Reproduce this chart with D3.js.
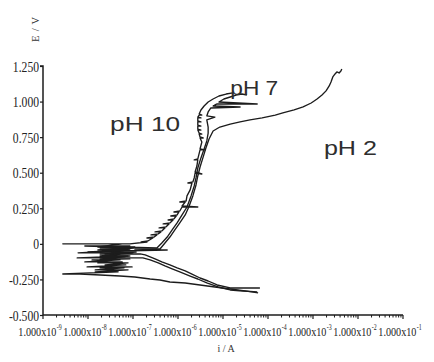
<!DOCTYPE html>
<html>
<head>
<meta charset="utf-8">
<script src="https://cdn.jsdelivr.net/npm/d3@7"></script>
<style>
  html, body { margin: 0; padding: 0; background: #fff; }
  svg { display: block; }
</style>
</head>
<body>
<svg id="chart" width="434" height="362"></svg>
<script>
// Potentiodynamic polarization curves, log10 of current (A) against potential (V)

// pH 2: cathodic branch, noisy region near Ecorr, then anodic branch
const pH2LogI = [-4.22, -4.51, -4.84, -5.18, -5.51, -5.84, -6.18, -6.40, -6.62, -6.96, -7.29, -7.73, -8.18, -8.56,
  -7.33, -7.84, -7.11, -7.84, -7.20, -7.73, -7.02, -8.02, -7.16, -7.62, -7.11, -7.78, -7.24, -8.07, -7.29, -7.91,
  -7.07, -7.73, -7.18, -7.67, -7.11, -7.56, -7.29, -7.73, -7.00, -7.47, -7.33, -6.24, -6.96,
  -6.40, -6.29, -6.18, -6.07, -5.96, -5.84, -5.76, -5.67, -5.60, -5.56, -5.51, -5.44, -5.38, -5.31, -5.22, -5.07, -4.84, -4.62,
  -4.40, -4.13, -3.84, -3.67, -3.42, -3.22, -3.04, -2.91, -2.80, -2.71, -2.64, -2.60, -2.56, -2.51, -2.47, -2.42, -2.38, -2.36];
const pH2E = [-0.345, -0.331, -0.317, -0.303, -0.289, -0.275, -0.268, -0.254, -0.247, -0.233, -0.226, -0.219, -0.212, -0.212,
  -0.197, -0.197, -0.183, -0.183, -0.169, -0.169, -0.162, -0.162, -0.148, -0.148, -0.134, -0.134, -0.127, -0.127, -0.113, -0.113,
  -0.106, -0.106, -0.092, -0.092, -0.085, -0.085, -0.071, -0.071, -0.063, -0.063, -0.050, -0.043, -0.036,
  -0.036, 0.006, 0.048, 0.098, 0.147, 0.203, 0.259, 0.337, 0.414, 0.477, 0.540, 0.611, 0.674, 0.737, 0.793, 0.821, 0.842, 0.857,
  0.871, 0.885, 0.905, 0.920, 0.941, 0.962, 0.990, 1.018, 1.046, 1.075, 1.110, 1.138, 1.173, 1.194, 1.208, 1.201, 1.215, 1.229];

// pH 7
const pH7LogI = [-4.18, -4.51, -4.84, -5.13, -5.33, -5.51, -5.69, -5.84, -6.02, -6.18, -6.36, -6.51, -6.62, -6.73,
  -6.84, -7.62, -6.93, -8.00, -7.07, -7.56, -6.98, -7.73, -7.07, -8.07,
  -6.47, -6.36, -6.24, -6.13, -6.02, -5.91, -5.80, -5.71, -5.64, -5.60, -5.56, -5.49, -5.42, -5.36, -5.33, -5.33, -5.36,
  -5.18, -5.36, -5.33, -5.27, -4.62, -5.22, -5.18, -5.13, -4.24, -5.09, -4.98, -4.84, -4.71, -4.58, -4.47];
const pH7E = [-0.310, -0.310, -0.310, -0.289, -0.261, -0.240, -0.212, -0.190, -0.169, -0.148, -0.127, -0.106, -0.092, -0.078,
  -0.071, -0.071, -0.057, -0.057, -0.043, -0.043, -0.029, -0.029, -0.015, -0.015,
  -0.029, 0.006, 0.048, 0.098, 0.147, 0.203, 0.259, 0.337, 0.407, 0.463, 0.533, 0.604, 0.667, 0.723, 0.779, 0.821, 0.871,
  0.891, 0.899, 0.927, 0.955, 0.962, 0.969, 0.976, 0.983, 0.983, 0.997, 1.018, 1.032, 1.046, 1.053, 1.046];

// pH 10 (anodic branch carries short current excursions)
const pH10LogI = [-4.24, -4.56, -4.84, -5.11, -5.36, -5.56, -5.73, -5.96, -6.13, -6.29, -6.44, -6.62, -6.78,
  -6.89, -8.24, -7.07, -7.73, -7.02, -8.22, -7.11, -7.78, -6.96, -7.78, -7.24, -8.56,
  -7.07, -6.69, -6.82, -6.67, -6.56, -6.69, -6.53, -6.47, -6.60, -6.44, -6.38, -6.51, -6.36, -6.29, -6.42, -6.27,
  -6.20, -6.33, -6.18, -6.11, -6.22, -6.09, -6.04, -6.16, -6.02, -5.98, -6.09, -5.96, -5.91, -5.56, -5.91, -5.84,
  -5.96, -5.82, -5.80, -5.73, -5.69, -5.78, -5.67, -5.64, -5.62, -5.47, -5.62, -5.58, -5.56, -5.64, -5.56, -5.51,
  -5.40, -5.51, -5.47,
  -5.51, -5.44, -5.51, -5.53, -5.47, -5.53, -5.56, -5.49, -5.56, -5.56, -5.49, -5.56, -5.56, -5.49, -5.56, -5.56,
  -5.49, -5.56, -5.53, -5.47, -5.53, -5.49, -5.42, -5.33, -5.22, -5.09, -4.93, -4.78];
const pH10E = [-0.338, -0.331, -0.324, -0.303, -0.275, -0.247, -0.226, -0.197, -0.176, -0.155, -0.134, -0.113, -0.099,
  -0.099, -0.099, -0.085, -0.085, -0.063, -0.063, -0.043, -0.043, -0.022, -0.022, 0.000, 0.000,
  0.000, 0.013, 0.013, 0.020, 0.041, 0.041, 0.048, 0.063, 0.063, 0.070, 0.084, 0.084, 0.091, 0.112, 0.112, 0.119,
  0.140, 0.140, 0.147, 0.168, 0.168, 0.175, 0.196, 0.196, 0.203, 0.224, 0.224, 0.231, 0.259, 0.259, 0.266, 0.294,
  0.294, 0.301, 0.337, 0.379, 0.428, 0.428, 0.435, 0.463, 0.498, 0.491, 0.505, 0.547, 0.590, 0.590, 0.597, 0.660,
  0.660, 0.667, 0.716,
  0.744, 0.744, 0.751, 0.772, 0.772, 0.779, 0.800, 0.800, 0.807, 0.828, 0.828, 0.835, 0.857, 0.857, 0.864, 0.885,
  0.885, 0.891, 0.905, 0.905, 0.913, 0.941, 0.969, 0.997, 1.018, 1.039, 1.053, 1.061];

// Axis ticks and labels
const yTickValues = [-0.5, -0.25, 0, 0.25, 0.5, 0.75, 1.0, 1.25];
const yTickLabels = ["-0.500", "-0.250", "0", "0.250", "0.500", "0.750", "1.000", "1.250"];
const xDecadeExponents = [-9, -8, -7, -6, -5, -4, -3, -2, -1];

// Curve labels: text and anchor point (current in A, potential in V)
const curveNames = ["pH 7", "pH 10", "pH 2"];
const curveNameAt = [[1.45e-5, 1.046], [3.1e-8, 0.793], [1.75e-3, 0.625]];

const svg = d3.select("#chart");
const ink = "#1c1c1c";
const serif = "'Liberation Serif', 'Times New Roman', serif";

const x = d3.scaleLog().domain([1e-9, 1e-1]).range([43, 403]);
const y = d3.scaleLinear().domain([-0.5, 1.25]).range([315, 66]);

// ---- curves
const series = [
  { logI: pH2LogI, E: pH2E },
  { logI: pH7LogI, E: pH7E },
  { logI: pH10LogI, E: pH10E }
].map(s => s.logI.map((v, i) => ({ i: Math.pow(10, v), e: s.E[i] })));

const line = d3.line().x(d => x(d.i)).y(d => y(d.e));

svg.append("g")
  .selectAll("path")
  .data(series)
  .join("path")
  .attr("d", line)
  .attr("fill", "none")
  .attr("stroke", ink)
  .attr("stroke-width", 1.35)
  .attr("stroke-linejoin", "round");

// ---- y axis
const yAxis = d3.axisLeft(y)
  .tickValues(yTickValues)
  .tickSize(3)
  .tickFormat((d, i) => yTickLabels[i]);

const gy = svg.append("g").attr("transform", "translate(43,0)").call(yAxis);
gy.attr("font-family", null).attr("font-size", null);
gy.select(".domain").attr("stroke", ink).attr("stroke-width", 1.5).attr("d", `M-3,${y(1.25)}H0V${y(-0.5)}`);
gy.selectAll(".tick line").attr("stroke", ink).attr("stroke-width", 1.2);
gy.selectAll(".tick text")
  .attr("x", -4)
  .attr("dy", "0.36em")
  .attr("fill", "#222")
  .style("font-family", serif)
  .style("font-size", "14px")
  .each(function () {
    const w = this.getComputedTextLength();
    d3.select(this).attr("textLength", w * 0.83).attr("lengthAdjust", "spacingAndGlyphs");
  });

// ---- x axis (log decades with minor ticks)
const minorTicks = [];
xDecadeExponents.slice(0, -1).forEach(p => {
  for (let m = 2; m <= 9; m++) minorTicks.push(m * Math.pow(10, p));
});
const majorTicks = xDecadeExponents.map(p => Math.pow(10, p));

const gx = svg.append("g");
gx.append("line")
  .attr("x1", x(1e-9)).attr("x2", x(1e-1))
  .attr("y1", y(-0.5)).attr("y2", y(-0.5))
  .attr("stroke", ink).attr("stroke-width", 1.6);
gx.selectAll("line.minor")
  .data(minorTicks)
  .join("line")
  .attr("class", "minor")
  .attr("x1", d => x(d)).attr("x2", d => x(d))
  .attr("y1", y(-0.5)).attr("y2", y(-0.5) + 2.5)
  .attr("stroke", ink).attr("stroke-width", 1);
gx.selectAll("line.major")
  .data(majorTicks)
  .join("line")
  .attr("class", "major")
  .attr("x1", d => x(d)).attr("x2", d => x(d))
  .attr("y1", y(-0.5)).attr("y2", y(-0.5) + 4)
  .attr("stroke", ink).attr("stroke-width", 1.2);

// decade labels: condensed mantissa text with a raised exponent
const xl = gx.selectAll("text.xlab")
  .data(xDecadeExponents)
  .join("text")
  .attr("class", "xlab")
  .attr("transform", d => `translate(${x(Math.pow(10, d)) - 3},336) scale(0.78,1)`)
  .attr("text-anchor", "middle")
  .attr("fill", "#222")
  .style("font-family", serif)
  .style("font-size", "13px");
xl.append("tspan").text("1.000x10");
xl.append("tspan").attr("dx", 0.6).attr("dy", -6).style("font-size", "7.5px").text(d => String(d));

// ---- axis titles
svg.append("text")
  .attr("transform", "translate(39,29) rotate(-90)")
  .attr("text-anchor", "middle")
  .attr("fill", "#333")
  .style("font-family", serif)
  .style("font-size", "10.5px")
  .style("letter-spacing", "0.8px")
  .text("E / V");

svg.append("text")
  .attr("x", 226)
  .attr("y", 352)
  .attr("text-anchor", "middle")
  .attr("fill", "#333")
  .style("font-family", serif)
  .style("font-size", "10px")
  .text("i / A");

// ---- curve labels (wide sans lettering)
const curveLabelWidth = [48, 70, 53];
svg.selectAll("text.curve")
  .data(curveNames)
  .join("text")
  .attr("class", "curve")
  .attr("x", (d, i) => x(curveNameAt[i][0]))
  .attr("y", (d, i) => y(curveNameAt[i][1]))
  .attr("fill", "#2e2e2e")
  .attr("textLength", (d, i) => curveLabelWidth[i])
  .attr("lengthAdjust", "spacingAndGlyphs")
  .style("font-family", "'Liberation Sans', Arial, sans-serif")
  .style("font-size", "20px")
  .text(d => d);
</script>
</body>
</html>
